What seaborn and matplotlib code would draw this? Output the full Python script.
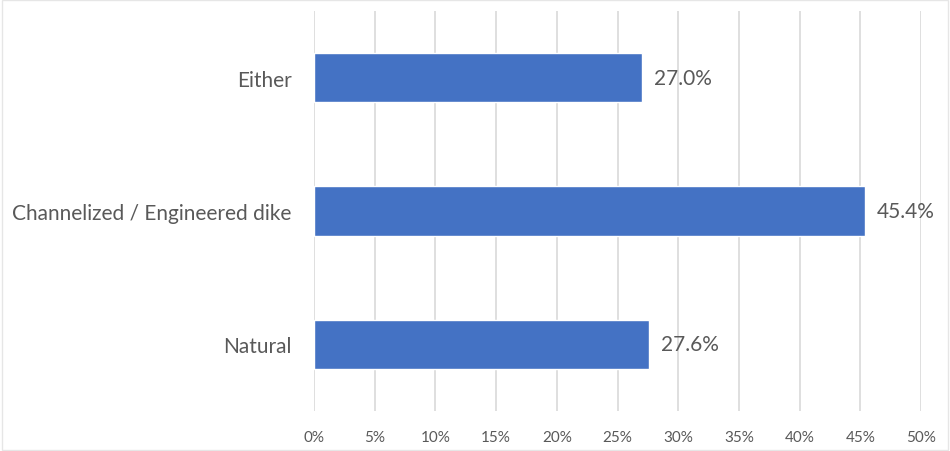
import matplotlib
matplotlib.use("Agg")
import matplotlib.pyplot as plt
import matplotlib.patches as mpatches
from matplotlib.ticker import MultipleLocator, FuncFormatter
import seaborn as sns
import pandas as pd

categories = ["Either", "Channelized / Engineered dike", "Natural"]
shares = [27.0, 45.4, 27.6]

bar_color = "#4472C4"
text_color = "#595959"
grid_color = "#D9D9D9"

sns.set_theme(style="white")
plt.rcParams["font.family"] = ["Lato", "DejaVu Sans"]

df = pd.DataFrame({"category": categories, "share": shares})

fig = plt.figure(figsize=(9.5, 4.52), dpi=100)
ax = fig.add_axes([0.3305, 0.0885, 0.639, 0.885])

sns.barplot(data=df, x="share", y="category", color=bar_color,
            width=0.37, saturation=1, ax=ax, zorder=3)

ax.set_xlim(0, 50)
ax.xaxis.set_major_locator(MultipleLocator(5))
ax.xaxis.set_major_formatter(FuncFormatter(lambda v, _: f"{v:.0f}%"))
ax.grid(axis="x", color=grid_color, linewidth=1.2, zorder=0)
ax.grid(axis="y", visible=False)
for s in ax.spines.values():
    s.set_visible(False)

ax.set_xlabel("")
ax.set_ylabel("")
ax.tick_params(axis="x", length=0, pad=14, labelsize=11, labelcolor=text_color)
ax.tick_params(axis="y", length=0, pad=16, labelsize=15, labelcolor=text_color)

# value labels just past the end of each bar
for bar, val in zip(ax.patches, shares):
    ax.annotate(f"{val:.1f}%", (bar.get_width(), bar.get_y() + bar.get_height() / 2),
                xytext=(12, 0), textcoords="offset pixels",
                va="center", ha="left", fontsize=15, color=text_color)

# thin frame around the whole figure
fig.patches.append(mpatches.Rectangle((0.002, 0.003), 0.996, 0.994, transform=fig.transFigure,
                                      fill=False, edgecolor="#E6E6E6", linewidth=1))

fig.savefig("out.png", dpi=100, facecolor="white")
